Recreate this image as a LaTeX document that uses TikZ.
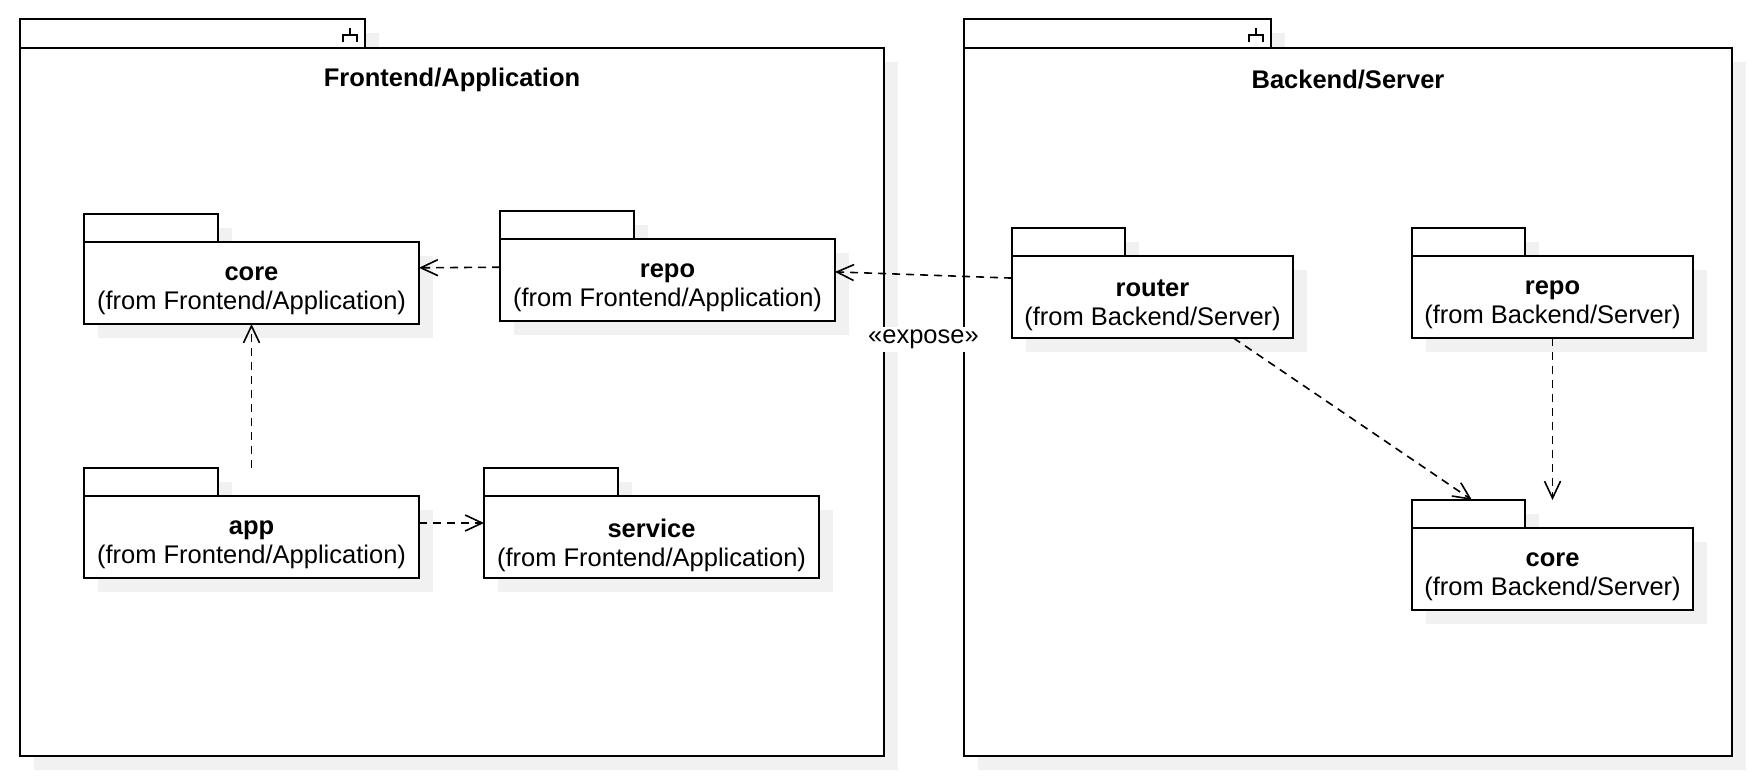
\documentclass[tikz,border=0pt]{standalone}
\usepackage{fontspec}
\setmainfont{Liberation Sans}
\usetikzlibrary{arrows.meta}
\definecolor{shadowgray}{HTML}{F1F1F1}

% outer package: left, tab right, right, title
\newcommand{\umlframe}[4]{%
  \fill[shadowgray] ({#1+14},33) rectangle ({#2+14},62);
  \fill[shadowgray] ({#1+14},62) rectangle ({#3+14},770);
  \draw[pkgline] (#1,19) rectangle (#2,48);
  \draw[pkgline] (#1,48) rectangle (#3,756);
  \draw[iconline] ({#2-15},28) -- ({#2-15},35)
    ({#2-22},42) -- ({#2-22},35) -- ({#2-8},35) -- ({#2-8},42);
  \node[frametitle] at ({(#1+#3)/2},80) {#4};
}

% inner package: name, left, top, body width, tab width, package, owner
\newcommand{\umlpkg}[7]{%
  \fill[shadowgray] ({#2+14},{#3+14}) rectangle ++(#5,28);
  \fill[shadowgray] ({#2+14},{#3+42}) rectangle ++(#4,82);
  \draw[pkgline] (#2,#3) rectangle ++(#5,28);
  \draw[pkgline] (#2,{#3+28}) rectangle ++(#4,82);
  \node[pkglabel] at ({#2+#4/2},{#3+77}) {\textbf{#6}\\(from #7)};
  \node[pkgbound, minimum width=#4pt] (#1) at ({#2+#4/2},{#3+55}) {};
}

\begin{document}
\begin{tikzpicture}[
    x=1pt, y=-1pt,
    pkgline/.style={draw=black, fill=white, line width=2pt},
    iconline/.style={draw=black, line width=1.5pt},
    frametitle/.style={font=\fontsize{25.5}{30}\selectfont\bfseries},
    pkglabel/.style={align=center, inner sep=0pt, font=\fontsize{25.5}{29}\selectfont},
    pkgbound/.style={inner sep=0pt, outer sep=0pt, minimum height=110pt},
    dep/.style={line width=1.6pt, dash pattern=on 8pt off 6pt,
        -{Straight Barb[length=17pt, width=16pt, line width=1.6pt]}},
    exposelabel/.style={fill=white, inner sep=3pt, below=51pt,
        font=\fontsize{25.5}{30}\selectfont}
]
\useasboundingbox (0,0) rectangle (1754,776);

\umlframe{20}{365}{884}{Frontend/Application}
\umlframe{964}{1271}{1732}{Backend/Server}

\umlpkg{coreF}{84}{214}{335}{134}{core}{Frontend/Application}
\umlpkg{repoF}{500}{211}{335}{134}{repo}{Frontend/Application}
\umlpkg{appF}{84}{468}{335}{134}{app}{Frontend/Application}
\umlpkg{serviceF}{484}{468}{335}{134}{service}{Frontend/Application}
\umlpkg{routerB}{1012}{228}{281}{113}{router}{Backend/Server}
\umlpkg{repoB}{1412}{228}{281}{113}{repo}{Backend/Server}
\umlpkg{coreB}{1412}{500}{281}{113}{core}{Backend/Server}

\draw[dep] (repoF) -- (coreF);
\draw[dep] (appF) -- (coreF);
\draw[dep] (appF) -- (serviceF);
\draw[dep] (routerB) -- node[exposelabel] {«expose»} (repoF);
\draw[dep] (routerB) -- (coreB);
\draw[dep] (repoB) -- (coreB);
\end{tikzpicture}
\end{document}
